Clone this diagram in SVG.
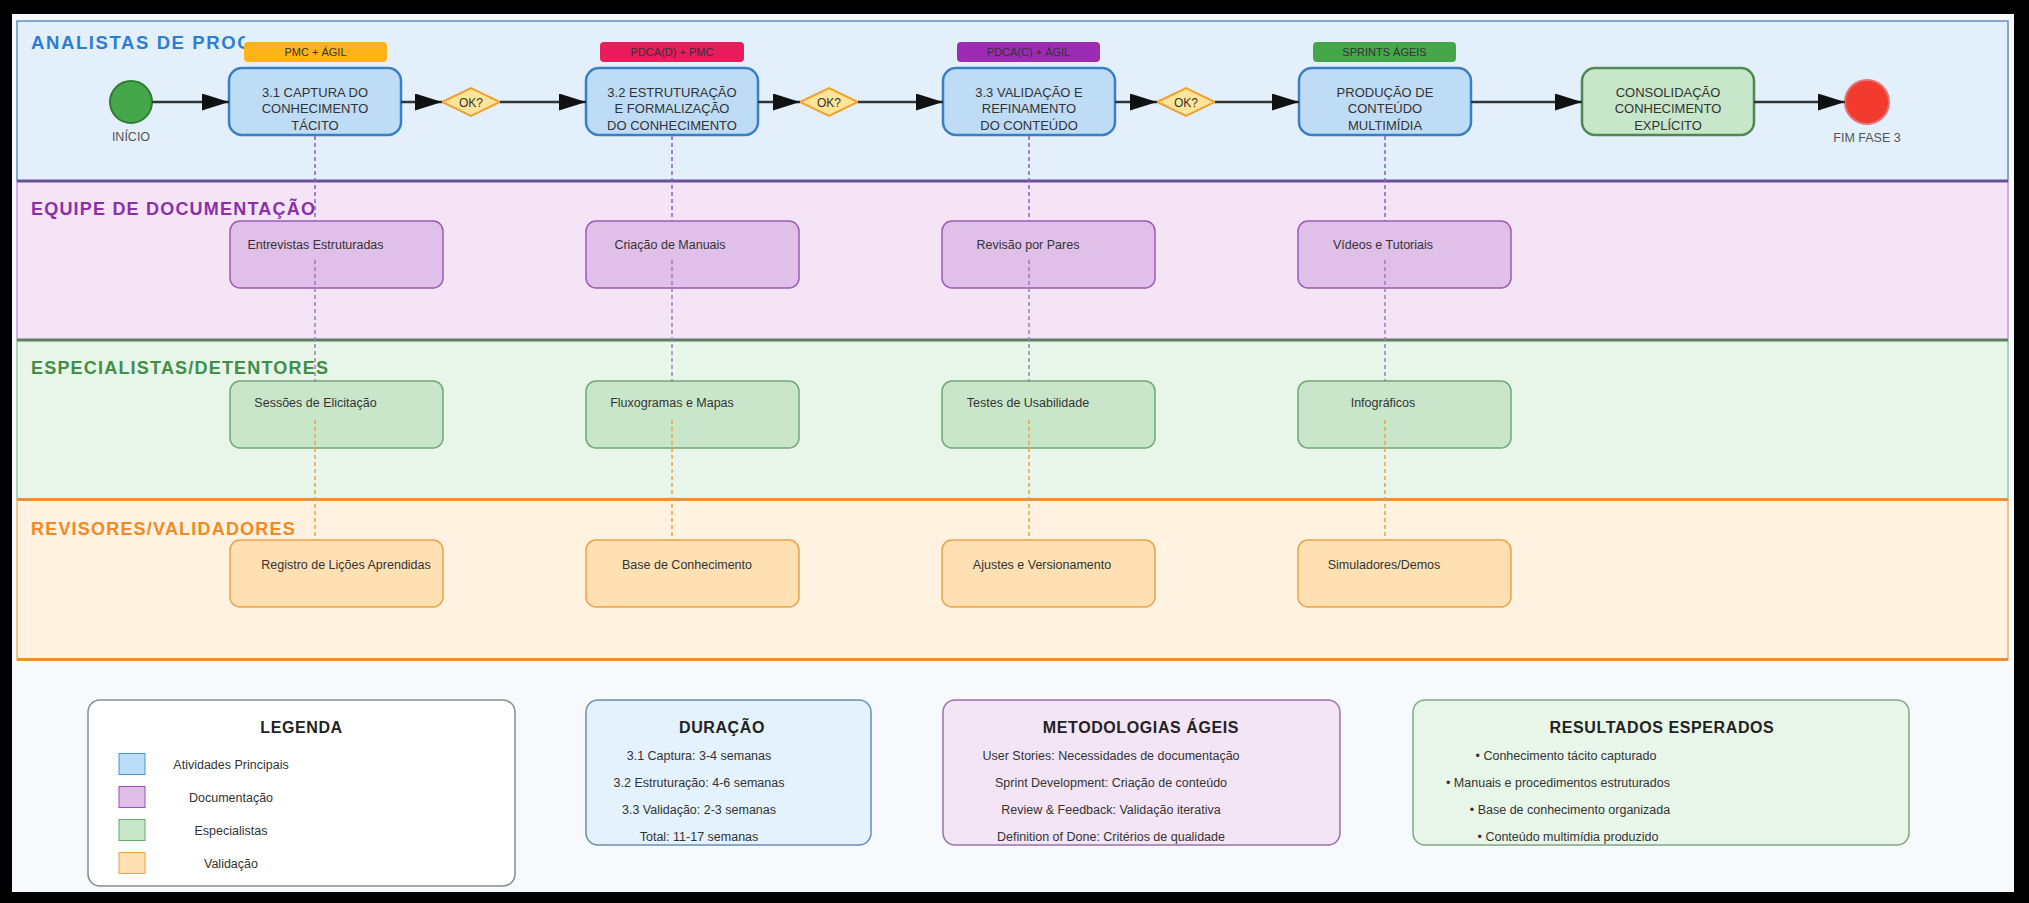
<svg xmlns="http://www.w3.org/2000/svg" width="2029" height="903" viewBox="0 0 2029 903">
  <style>
    text { font-family: "Liberation Sans", Arial, sans-serif; }
    .lane-title { font-size: 18px; font-weight: bold; letter-spacing: 1.2px; }
    .main-box { fill: #bfdcf6; stroke: #3a7fc4; stroke-width: 2.5; }
    .main-txt { font-size: 13px; fill: #333; text-anchor: middle; }
    .badge-txt { font-size: 11px; fill: #333; text-anchor: middle; }
    .sub-txt { font-size: 12.5px; fill: #333; text-anchor: middle; }
    .doc-box { fill: #e0bfe8; stroke: #9a5cb4; stroke-width: 1.5; }
    .spec-box { fill: #c9e6ca; stroke: #72a874; stroke-width: 1.5; }
    .val-box { fill: #ffe0b3; stroke: #eea04a; stroke-width: 1.5; }
    .flow { stroke: #333; stroke-width: 2.5; fill: none; marker-end: url(#arrow); }
    .link-a { stroke: #8c5cc4; stroke-width: 1.5; stroke-dasharray: 4 3; fill: none; }
    .link-b { stroke: #9c7fb8; stroke-width: 1.5; stroke-dasharray: 4 3; fill: none; }
    .link-c { stroke: #f0a040; stroke-width: 1.5; stroke-dasharray: 4 3; fill: none; }
    .gate { fill: #ffe49a; stroke: #f0a030; stroke-width: 2; }
    .gate-txt { font-size: 12px; fill: #333; text-anchor: middle; }
    .panel-title { font-size: 16px; font-weight: bold; fill: #222; text-anchor: middle; letter-spacing: 0.6px; }
    .panel-txt { font-size: 12.5px; fill: #333; text-anchor: middle; }
    .event-txt { font-size: 12.5px; fill: #555; text-anchor: middle; }
  </style>
  <defs>
    <marker id="arrow" markerUnits="userSpaceOnUse" markerWidth="28" markerHeight="18" refX="27" refY="8.5" orient="auto">
      <path d="M0,0 L27,8.5 L0,17 Z" fill="#111"/>
    </marker>
    <clipPath id="lane1-title-clip">
      <rect x="0" y="20" width="245" height="40"/>
    </clipPath>
  </defs>

  <!-- frame and page background -->
  <rect x="0" y="0" width="2029" height="903" fill="#000"/>
  <rect x="12" y="14" width="2002" height="878" fill="#f7fafd"/>

  <!-- swimlanes -->
  <g id="lanes">
    <rect x="17" y="21" width="1991" height="160" fill="#e3f0fb" stroke="#5d8fc9" stroke-width="1.5"/>
    <rect x="17" y="181" width="1991" height="159" fill="#f4e4f6" stroke="#c69bd6" stroke-width="1.5"/>
    <rect x="17" y="340" width="1991" height="159" fill="#e8f5e9" stroke="#9cc89e" stroke-width="1.5"/>
    <rect x="17" y="499" width="1991" height="161" fill="#fff2e1" stroke="#f3b06a" stroke-width="1.5"/>
    <line x1="17" y1="181" x2="2008" y2="181" stroke="#6b4f95" stroke-width="3"/>
    <line x1="17" y1="340" x2="2008" y2="340" stroke="#5e7c62" stroke-width="3"/>
    <line x1="17" y1="499.5" x2="2008" y2="499.5" stroke="#ef8f35" stroke-width="3"/>
    <line x1="17" y1="659.5" x2="2008" y2="659.5" stroke="#ef8f35" stroke-width="3"/>
    <text class="lane-title" x="31" y="48.5" fill="#2d7dd2" style="font-size:18.5px;letter-spacing:1.6px" clip-path="url(#lane1-title-clip)">ANALISTAS DE PROC</text>
    <text class="lane-title" x="31" y="215" fill="#8b2fa8">EQUIPE DE DOCUMENTAÇÃO</text>
    <text class="lane-title" x="31" y="373.5" fill="#3f8f45">ESPECIALISTAS/DETENTORES</text>
    <text class="lane-title" x="31" y="535" fill="#f08a24">REVISORES/VALIDADORES</text>
  </g>

  <!-- start / end events -->
  <g id="inicio">
    <circle cx="131" cy="102" r="21" fill="#46a64a" stroke="#2e7d32" stroke-width="2"/>
    <text class="event-txt" x="131" y="141">INÍCIO</text>
  </g>
  <g id="fim-fase-3">
    <circle cx="1867" cy="102" r="22" fill="#f23a2e" stroke="#e57373" stroke-width="2"/>
    <text class="event-txt" x="1867" y="141.5">FIM FASE 3</text>
  </g>

  <!-- main activities -->
  <g id="captura">
    <rect class="main-box" x="229" y="68" width="172" height="67" rx="13"/>
    <text class="main-txt" x="315" y="96.5">3.1 CAPTURA DO</text>
    <text class="main-txt" x="315" y="113.3">CONHECIMENTO</text>
    <text class="main-txt" x="315" y="130">TÁCITO</text>
  </g>
  <g id="badge-captura">
    <rect x="244" y="42" width="143" height="20" rx="4" fill="#ffb31a"/>
    <text class="badge-txt" x="315.5" y="56">PMC + ÁGIL</text>
  </g>

  <g id="estruturacao">
    <rect class="main-box" x="586" y="68" width="172" height="67" rx="13"/>
    <text class="main-txt" x="672" y="96.5">3.2 ESTRUTURAÇÃO</text>
    <text class="main-txt" x="672" y="113.3">E FORMALIZAÇÃO</text>
    <text class="main-txt" x="672" y="130">DO CONHECIMENTO</text>
  </g>
  <g id="badge-estruturacao">
    <rect x="600" y="42" width="144" height="20" rx="4" fill="#e91c5e"/>
    <text class="badge-txt" x="672" y="56">PDCA(D) + PMC</text>
  </g>

  <g id="validacao">
    <rect class="main-box" x="943" y="68" width="172" height="67" rx="13"/>
    <text class="main-txt" x="1029" y="96.5">3.3 VALIDAÇÃO E</text>
    <text class="main-txt" x="1029" y="113.3">REFINAMENTO</text>
    <text class="main-txt" x="1029" y="130">DO CONTEÚDO</text>
  </g>
  <g id="badge-validacao">
    <rect x="957" y="42" width="143" height="20" rx="4" fill="#9c2cb4"/>
    <text class="badge-txt" x="1028.5" y="56">PDCA(C) + ÁGIL</text>
  </g>

  <g id="producao">
    <rect class="main-box" x="1299" y="68" width="172" height="67" rx="13"/>
    <text class="main-txt" x="1385" y="96.5">PRODUÇÃO DE</text>
    <text class="main-txt" x="1385" y="113.3">CONTEÚDO</text>
    <text class="main-txt" x="1385" y="130">MULTIMÍDIA</text>
  </g>
  <g id="badge-producao">
    <rect x="1313" y="42" width="143" height="20" rx="4" fill="#46a64a"/>
    <text class="badge-txt" x="1384.5" y="56">SPRINTS ÁGEIS</text>
  </g>

  <g id="consolidacao">
    <rect x="1582" y="68" width="172" height="67" rx="13" fill="#c8e6c9" stroke="#4e8a50" stroke-width="2.5"/>
    <text class="main-txt" x="1668" y="96.5">CONSOLIDAÇÃO</text>
    <text class="main-txt" x="1668" y="113.3">CONHECIMENTO</text>
    <text class="main-txt" x="1668" y="130">EXPLÍCITO</text>
  </g>

  <!-- decision gates -->
  <g id="gate-1">
    <polygon class="gate" points="442,102 471,88 500,102 471,116"/>
    <text class="gate-txt" x="471" y="106.5">OK?</text>
  </g>
  <g id="gate-2">
    <polygon class="gate" points="800,102 829,88 858,102 829,116"/>
    <text class="gate-txt" x="829" y="106.5">OK?</text>
  </g>
  <g id="gate-3">
    <polygon class="gate" points="1157,102 1186,88 1215,102 1186,116"/>
    <text class="gate-txt" x="1186" y="106.5">OK?</text>
  </g>

  <!-- documentation lane -->
  <g id="doc-entrevistas">
    <rect class="doc-box" x="230" y="221" width="213" height="67" rx="10"/>
    <text class="sub-txt" x="315.5" y="248.5">Entrevistas Estruturadas</text>
  </g>
  <g id="doc-manuais">
    <rect class="doc-box" x="586" y="221" width="213" height="67" rx="10"/>
    <text class="sub-txt" x="670" y="248.5">Criação de Manuais</text>
  </g>
  <g id="doc-revisao">
    <rect class="doc-box" x="942" y="221" width="213" height="67" rx="10"/>
    <text class="sub-txt" x="1028" y="248.5">Revisão por Pares</text>
  </g>
  <g id="doc-videos">
    <rect class="doc-box" x="1298" y="221" width="213" height="67" rx="10"/>
    <text class="sub-txt" x="1383" y="248.5">Vídeos e Tutoriais</text>
  </g>

  <!-- specialists lane -->
  <g id="spec-elicitacao">
    <rect class="spec-box" x="230" y="381" width="213" height="67" rx="10"/>
    <text class="sub-txt" x="315.5" y="407">Sessões de Elicitação</text>
  </g>
  <g id="spec-fluxogramas">
    <rect class="spec-box" x="586" y="381" width="213" height="67" rx="10"/>
    <text class="sub-txt" x="672" y="407">Fluxogramas e Mapas</text>
  </g>
  <g id="spec-usabilidade">
    <rect class="spec-box" x="942" y="381" width="213" height="67" rx="10"/>
    <text class="sub-txt" x="1028" y="407">Testes de Usabilidade</text>
  </g>
  <g id="spec-infograficos">
    <rect class="spec-box" x="1298" y="381" width="213" height="67" rx="10"/>
    <text class="sub-txt" x="1383" y="407">Infográficos</text>
  </g>

  <!-- reviewers lane -->
  <g id="val-licoes">
    <rect class="val-box" x="230" y="540" width="213" height="67" rx="10"/>
    <text class="sub-txt" x="346" y="568.5">Registro de Lições Aprendidas</text>
  </g>
  <g id="val-base">
    <rect class="val-box" x="586" y="540" width="213" height="67" rx="10"/>
    <text class="sub-txt" x="687" y="568.5">Base de Conhecimento</text>
  </g>
  <g id="val-ajustes">
    <rect class="val-box" x="942" y="540" width="213" height="67" rx="10"/>
    <text class="sub-txt" x="1042" y="568.5">Ajustes e Versionamento</text>
  </g>
  <g id="val-simuladores">
    <rect class="val-box" x="1298" y="540" width="213" height="67" rx="10"/>
    <text class="sub-txt" x="1384" y="568.5">Simuladores/Demos</text>
  </g>

  <!-- connectors -->
  <g id="connectors">
    <line class="flow" x1="152" y1="102" x2="229" y2="102"/>
    <line class="flow" x1="401" y1="102" x2="442" y2="102"/>
    <line class="flow" x1="500" y1="102" x2="586" y2="102"/>
    <line class="flow" x1="758" y1="102" x2="800" y2="102"/>
    <line class="flow" x1="858" y1="102" x2="943" y2="102"/>
    <line class="flow" x1="1115" y1="102" x2="1157" y2="102"/>
    <line class="flow" x1="1215" y1="102" x2="1299" y2="102"/>
    <line class="flow" x1="1471" y1="102" x2="1582" y2="102"/>
    <line class="flow" x1="1754" y1="102" x2="1845" y2="102"/>

    <line class="link-a" x1="315" y1="136" x2="315" y2="221"/>
    <line class="link-a" x1="672" y1="136" x2="672" y2="221"/>
    <line class="link-a" x1="1029" y1="136" x2="1029" y2="221"/>
    <line class="link-a" x1="1385" y1="136" x2="1385" y2="221"/>

    <line class="link-b" x1="315" y1="260" x2="315" y2="381"/>
    <line class="link-b" x1="672" y1="260" x2="672" y2="381"/>
    <line class="link-b" x1="1029" y1="260" x2="1029" y2="381"/>
    <line class="link-b" x1="1385" y1="260" x2="1385" y2="381"/>

    <line class="link-c" x1="315" y1="420" x2="315" y2="540"/>
    <line class="link-c" x1="672" y1="420" x2="672" y2="540"/>
    <line class="link-c" x1="1029" y1="420" x2="1029" y2="540"/>
    <line class="link-c" x1="1385" y1="420" x2="1385" y2="540"/>
  </g>

  <!-- legend -->
  <g id="legenda">
    <rect x="88" y="700" width="427" height="186" rx="12" fill="#ffffff" stroke="#8a8a8a" stroke-width="1.5"/>
    <text class="panel-title" x="301.5" y="733">LEGENDA</text>
    <rect x="119" y="753.5" width="26" height="21" fill="#bbdefb" stroke="#4a90d9" stroke-width="1"/>
    <text class="panel-txt" x="231" y="768.5">Atividades Principais</text>
    <rect x="119" y="786.5" width="26" height="21" fill="#e1bee7" stroke="#9c4fb0" stroke-width="1"/>
    <text class="panel-txt" x="231" y="801.5">Documentação</text>
    <rect x="119" y="819.5" width="26" height="21" fill="#c8e6c9" stroke="#66a86a" stroke-width="1"/>
    <text class="panel-txt" x="231" y="834.5">Especialistas</text>
    <rect x="119" y="852.5" width="26" height="21" fill="#ffe0b2" stroke="#f0a040" stroke-width="1"/>
    <text class="panel-txt" x="231" y="867.5">Validação</text>
  </g>

  <g id="duracao">
    <rect x="586" y="700" width="285" height="145" rx="12" fill="#e3f2fd" stroke="#6a8fb5" stroke-width="1.5"/>
    <text class="panel-title" x="722" y="733">DURAÇÃO</text>
    <text class="panel-txt" x="699" y="759.5">3.1 Captura: 3-4 semanas</text>
    <text class="panel-txt" x="699" y="786.5">3.2 Estruturação: 4-6 semanas</text>
    <text class="panel-txt" x="699" y="813.5">3.3 Validação: 2-3 semanas</text>
    <text class="panel-txt" x="699" y="840.5">Total: 11-17 semanas</text>
  </g>

  <g id="metodologias">
    <rect x="943" y="700" width="397" height="145" rx="12" fill="#f3e5f5" stroke="#9d6fb0" stroke-width="1.5"/>
    <text class="panel-title" x="1141" y="733">METODOLOGIAS ÁGEIS</text>
    <text class="panel-txt" x="1111" y="759.5">User Stories: Necessidades de documentação</text>
    <text class="panel-txt" x="1111" y="786.5">Sprint Development: Criação de conteúdo</text>
    <text class="panel-txt" x="1111" y="813.5">Review &amp; Feedback: Validação iterativa</text>
    <text class="panel-txt" x="1111" y="840.5">Definition of Done: Critérios de qualidade</text>
  </g>

  <g id="resultados">
    <rect x="1413" y="700" width="496" height="145" rx="12" fill="#e8f5e9" stroke="#7fa882" stroke-width="1.5"/>
    <text class="panel-title" x="1662" y="733">RESULTADOS ESPERADOS</text>
    <text class="panel-txt" x="1566" y="759.5">• Conhecimento tácito capturado</text>
    <text class="panel-txt" x="1558" y="786.5">• Manuais e procedimentos estruturados</text>
    <text class="panel-txt" x="1570" y="813.5">• Base de conhecimento organizada</text>
    <text class="panel-txt" x="1568" y="840.5">• Conteúdo multimídia produzido</text>
  </g>
</svg>
